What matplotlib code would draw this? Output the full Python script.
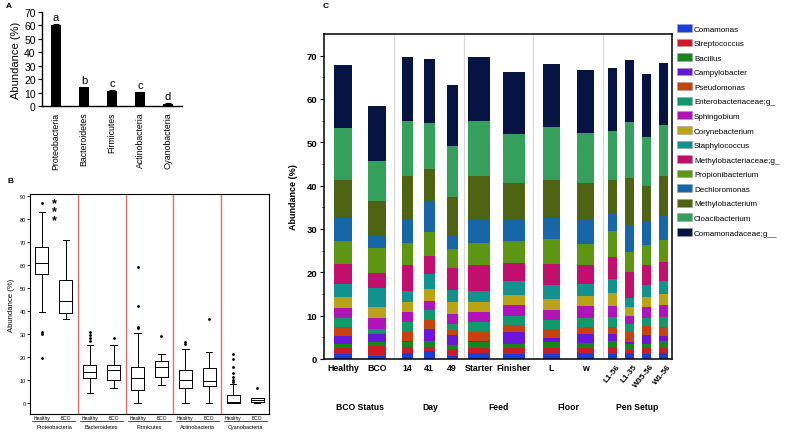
import numpy as np
import matplotlib
matplotlib.use("Agg")
import matplotlib.pyplot as plt
from matplotlib.patches import Patch

plt.rcParams['font.family'] = ['Liberation Sans', 'DejaVu Sans']

# ==========================
# DATA
# ==========================

# Panel A: mean abundance of phyla
phyla = ["Proteobacteria", "Bacteroidetes", "Firmicutes", "Actinobacteria", "Cyanobacteria"]
phyla_mean = [60.0, 14.0, 11.2, 10.2, 1.8]
phyla_err = [1.0, 0.5, 0.6, 0.4, 0.3]
phyla_letters = ["a", "b", "c", "c", "d"]

# Panel B: box plot summaries (healthy, BCO) per phylum
box_groups = ["Healthy", "BCO"]
healthy_box = [
    # whislo, q1, med, q3, whishi, fliers
    (39.5, 56.0, 61.0, 68.0, 83.0, [87.0, 31.0, 30.0, 19.5]),
    (4.2, 10.5, 13.5, 16.5, 25.0, [27.0, 28.0, 29.5, 31.0]),
    (0.0, 5.5, 10.5, 15.5, 30.5, [32.5, 33.0, 42.0, 59.0]),
    (0.0, 6.5, 10.0, 14.0, 23.5, [25.5, 26.5]),
    (0.0, 0.0, 0.3, 3.5, 8.2, [9.0, 10.0, 11.0, 13.0, 15.5, 19.0, 21.0]),
]
bco_box = [
    (36.5, 39.0, 44.5, 53.5, 71.0, []),
    (6.5, 10.0, 14.2, 16.5, 25.0, [28.0]),
    (7.5, 11.0, 15.5, 18.0, 21.0, [29.0]),
    (0.0, 7.0, 9.2, 15.0, 22.0, [36.5]),
    (0.0, 0.2, 1.0, 1.8, 2.0, [6.5]),
]

# Panel C: cumulative top of each genus in the stacked bars
samples = ["Healthy", "BCO", "14", "41", "49", "Starter", "Finisher", "L", "w",
           "L1-56", "L1-35", "W35-56", "W1-56"]
factors = ["BCO Status", "Day", "Feed", "Floor", "Pen Setup"]
genera = ["Comamonas", "Streptococcus", "Bacillus", "Campylobacter", "Pseudomonas",
          "Enterobacteriaceae;g_", "Sphingobium", "Corynebacterium", "Staphylococcus",
          "Methylobacteriaceae;g_", "Propionibacterium", "Dechloromonas",
          "Methylobacterium", "Cloacibacterium", "Comamonadaceae;g__"]
comamonas = [1.2, 0.6, 1.5, 1.9, 0.6, 1.5, 1.2, 1.2, 1.3, 1.2, 1.3, 1.2, 1.3]
streptococcus = [2.5, 2.9, 2.7, 2.7, 2.3, 2.6, 2.5, 2.5, 2.5, 2.7, 2.1, 2.5, 2.5]
bacillus = [3.5, 3.9, 4.0, 4.2, 3.2, 3.9, 3.5, 4.0, 3.7, 4.2, 3.5, 3.5, 4.1]
campylobacter = [5.2, 5.8, 4.2, 6.9, 5.5, 4.1, 6.2, 4.8, 5.8, 5.8, 3.9, 5.6, 5.4]
pseudomonas = [7.3, 6.1, 6.2, 9.1, 6.7, 6.2, 7.9, 6.9, 7.5, 7.5, 6.2, 7.7, 7.3]
enterobacteriaceae = [9.4, 6.9, 8.6, 11.3, 8.1, 8.6, 9.9, 9.0, 9.4, 9.8, 8.1, 9.4, 9.6]
sphingobium = [11.7, 9.5, 10.8, 13.5, 10.4, 10.8, 12.5, 11.2, 12.3, 12.3, 10.0, 12.1, 12.5]
corynebacterium = [14.3, 11.9, 13.1, 16.2, 13.1, 13.1, 14.8, 13.9, 14.6, 15.2, 11.9, 14.3, 15.0]
staphylococcus = [17.2, 16.4, 15.8, 19.7, 16.0, 15.8, 17.9, 17.0, 17.3, 18.5, 14.0, 17.1, 18.1]
methylobacteriaceae = [22.0, 19.8, 21.6, 23.7, 21.0, 21.6, 22.2, 22.0, 21.8, 23.5, 20.0, 21.6, 22.4]
propionibacterium = [27.2, 25.6, 26.8, 29.3, 25.3, 26.8, 27.2, 27.6, 26.6, 29.5, 24.7, 26.2, 27.5]
dechloromonas = [32.6, 28.5, 32.4, 36.4, 28.4, 32.4, 32.4, 32.5, 32.2, 33.5, 31.0, 31.6, 33.1]
methylobacterium = [41.4, 36.4, 42.2, 43.9, 37.4, 42.2, 40.6, 41.4, 40.7, 41.4, 41.8, 39.9, 42.2]
cloacibacterium = [53.4, 45.6, 54.9, 54.5, 49.1, 54.9, 51.9, 53.6, 52.2, 52.6, 54.7, 51.3, 54.0]
comamonadaceae = [67.9, 58.4, 69.7, 69.3, 63.2, 69.7, 66.3, 68.0, 66.8, 67.2, 69.0, 65.8, 68.4]
stack_tops = [comamonas, streptococcus, bacillus, campylobacter, pseudomonas,
              enterobacteriaceae, sphingobium, corynebacterium, staphylococcus,
              methylobacteriaceae, propionibacterium, dechloromonas,
              methylobacterium, cloacibacterium, comamonadaceae]

# ==========================
# LAYOUT / STYLE
# ==========================

genus_colors = ["#1a3fd8", "#cc1c28", "#17861c", "#6a16d8", "#c8420e", "#10996a",
                "#b014b8", "#b8a414", "#12928e", "#c20f6e", "#5c9612", "#1766a8",
                "#4f6412", "#35a05c", "#051443"]
bar_x = [19, 53, 83, 105, 128, 155, 190, 227, 261, 288, 305, 322, 339]
bar_w = [18, 18, 11, 11, 11, 22, 22, 17, 17, 9, 9, 9, 9]
factor_sep = [70, 140, 209, 279]
factor_x = [36, 106, 175, 244, 313]

W, H = 787, 435
fig = plt.figure(figsize=(W / 100, H / 100), dpi=100)

def frac(left, top, right, bottom):
    return [left / W, 1 - bottom / H, (right - left) / W, (bottom - top) / H]

# ==========================
# PANEL A
# ==========================

axA = fig.add_axes(frac(42, 13, 182, 107))
xa = np.arange(len(phyla))
axA.bar(xa, phyla_mean, width=0.33, color="black", yerr=phyla_err,
        error_kw=dict(ecolor="black", elinewidth=0.8, capsize=2, capthick=0.8))
for i, lt in enumerate(phyla_letters):
    axA.text(xa[i], phyla_mean[i] + phyla_err[i] + 1.5, lt, ha="center", va="bottom", fontsize=8)
axA.set_xlim(-0.5, 4.5)
axA.set_ylim(0, 70)
axA.set_yticks(range(0, 71, 10))
axA.set_xticks(xa)
axA.set_xticklabels(phyla, rotation=90, fontsize=6.3)
axA.tick_params(axis="x", length=0, pad=4)
axA.tick_params(axis="y", labelsize=7.5, length=3, width=0.8, pad=1.5)
axA.set_ylabel("Abundance (%)", fontsize=8, labelpad=2)
for s in ["top", "right"]:
    axA.spines[s].set_visible(False)
for s in ["left", "bottom"]:
    axA.spines[s].set_linewidth(1.0)
fig.text(6 / W, 1 - 6 / H, "A", fontsize=6, fontweight="bold", ha="left", va="center")

# ==========================
# PANEL B
# ==========================

axB = fig.add_axes(frac(30, 195, 269, 415))
stats, pos = [], []
for g in range(len(phyla)):
    for j, src in enumerate([healthy_box, bco_box]):
        lo, q1, med, q3, hi, fl = src[g]
        stats.append(dict(whislo=lo, q1=q1, med=med, q3=q3, whishi=hi, fliers=fl))
        pos.append(g + 0.25 + 0.5 * j)
line_kw = dict(color="black", linewidth=0.7)
axB.bxp(stats, positions=pos, widths=0.27, showfliers=True,
        boxprops=line_kw, whiskerprops=line_kw, capprops=line_kw,
        medianprops=line_kw,
        flierprops=dict(marker="o", markersize=1.0, markerfacecolor="black",
                        markeredgecolor="black"),
        manage_ticks=False)
for xs in range(1, len(phyla)):
    axB.axvline(xs, color="#e07070", linewidth=1.0)
axB.set_xlim(0, len(phyla))
axB.set_ylim(-5, 91)
axB.set_yticks(range(0, 91, 10))
axB.set_xticks([])
axB.tick_params(axis="y", labelsize=4, length=2, width=0.6, pad=1)
axB.set_ylabel("Abundance (%)", fontsize=5.6, labelpad=3)
for s in axB.spines.values():
    s.set_linewidth(0.8)
axB.text(0.5, 83.4, "*\n*\n*", ha="center", va="center", fontsize=9,
         fontweight="bold", linespacing=0.6)
tr = axB.get_xaxis_transform()
for g, name in enumerate(phyla):
    for j, lab in enumerate(box_groups):
        axB.text(g + 0.25 + 0.5 * j, -0.018, lab, transform=tr, ha="center",
                 va="center", fontsize=3.5)
    axB.plot([g + 0.05, g + 0.95], [-0.033, -0.033], transform=tr, color="black",
             linewidth=0.5, clip_on=False)
    axB.text(g + 0.5, -0.055, name, transform=tr, ha="center", va="center", fontsize=4)
fig.text(8 / W, 1 - 182 / H, "B", fontsize=6, fontweight="bold", ha="left", va="center")

# ==========================
# PANEL C
# ==========================

axC = fig.add_axes(frac(324, 35, 672, 360))
bottom = np.zeros(len(samples))
handles = []
for name, tops, col in zip(genera, stack_tops, genus_colors):
    tops = np.array(tops)
    axC.bar(bar_x, tops - bottom, bottom=bottom, width=bar_w, color=col,
            edgecolor="none")
    handles.append(Patch(facecolor=col, edgecolor="#9aa0b0", linewidth=0.4, label=name))
    bottom = tops
for xs in factor_sep:
    axC.axvline(xs, color="#d8d8d8", linewidth=0.8, zorder=0)
axC.set_xlim(0, 348)
axC.set_ylim(0, 75)
axC.set_yticks(range(0, 71, 10))
axC.set_yticks(range(0, 75, 5), minor=True)
axC.tick_params(axis="y", which="major", length=3, width=0.8, pad=2, labelsize=6.8)
axC.tick_params(axis="y", which="minor", length=1.5, width=0.6)
for lab in axC.get_yticklabels():
    lab.set_fontweight("bold")
axC.set_ylabel("Abundance (%)", fontsize=6.5, fontweight="bold", labelpad=6)
axC.set_xticks([])
for s in axC.spines.values():
    s.set_linewidth(1.1)

trC = axC.get_xaxis_transform()
for i, lab in enumerate(samples):
    if i < 9:
        axC.text(bar_x[i], -0.012, lab, transform=trC, ha="center", va="top",
                 fontsize=6.3, fontweight="bold")
    else:
        axC.text(bar_x[i] + 4, -0.01, lab, transform=trC, ha="right", va="top",
                 rotation=50, rotation_mode="anchor", fontsize=5.8,
                 fontweight="bold")
for fx, name in zip(factor_x, factors):
    axC.text(fx, -0.145, name, transform=trC, ha="center", va="center",
             fontsize=6.2, fontweight="bold")

fig.legend(handles=handles, loc="upper left", bbox_to_anchor=(677 / W, 1 - 25 / H),
           frameon=False, prop=dict(size=5.8), handlelength=1.9,
           handleheight=1.1, handletextpad=0.2, labelspacing=0.74, borderpad=0,
           borderaxespad=0)
fig.text(323 / W, 1 - 7 / H, "C", fontsize=6, fontweight="bold", ha="left", va="center")

plt.savefig("out.png", dpi=100)
plt.close()
